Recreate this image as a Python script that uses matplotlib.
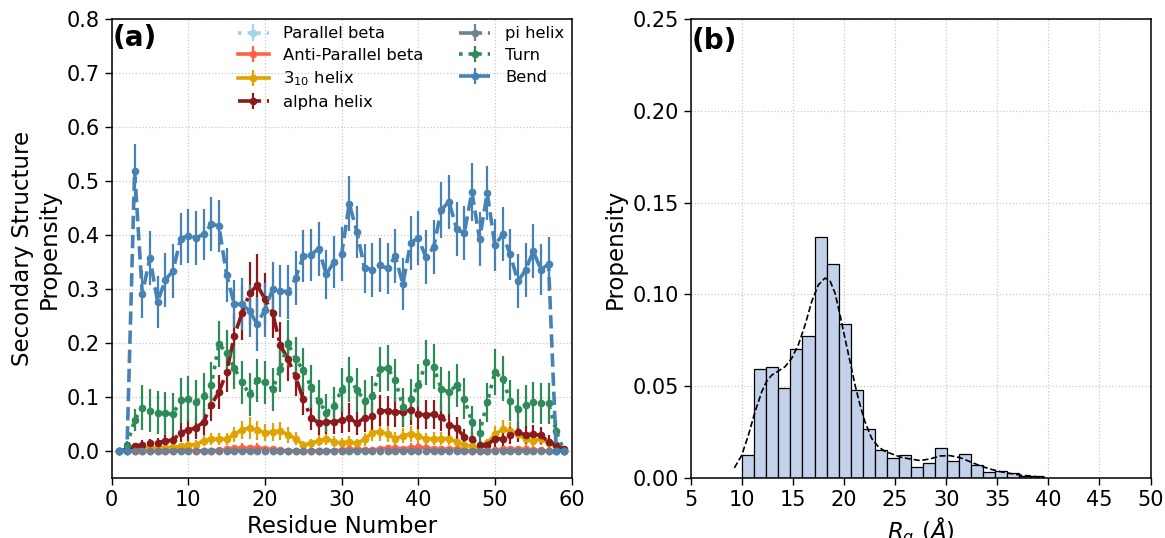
import numpy as np
import matplotlib.pyplot as plt

# per-residue secondary structure propensity (mean and error)
residues = np.arange(1, 60)

parallel_beta = np.zeros(len(residues))
parallel_beta_err = np.zeros(len(residues))

antiparallel_beta = [0, 0, 0, 0, 0, 0, 0, 0, 0.004, 0.002,
                     0, 0, 0, 0.002, 0.003, 0.005, 0.006, 0.005, 0.006, 0.004,
                     0.003, 0.002, 0, 0, 0, 0, 0, 0, 0, 0.002,
                     0.003, 0.003, 0.002, 0.002, 0.004, 0.005, 0.005, 0.004, 0.006, 0.007,
                     0.006, 0.004, 0.003, 0.004, 0.003, 0.002, 0, 0, 0, 0.002,
                     0.003, 0.003, 0.004, 0.003, 0.002, 0.001, 0, 0, 0]
antiparallel_beta_err = [0, 0, 0, 0, 0, 0, 0, 0, 0.006, 0.004,
                         0, 0, 0, 0.004, 0.005, 0.007, 0.008, 0.007, 0.008, 0.006,
                         0.005, 0.004, 0, 0, 0, 0, 0, 0, 0, 0.004,
                         0.005, 0.005, 0.004, 0.004, 0.006, 0.007, 0.007, 0.006, 0.008, 0.009,
                         0.008, 0.006, 0.005, 0.006, 0.005, 0.004, 0, 0, 0, 0.004,
                         0.005, 0.005, 0.006, 0.005, 0.004, 0.003, 0, 0, 0]

helix310 = [0, 0.001, 0.003, 0.005, 0.006, 0.006, 0.006, 0.007, 0.009, 0.011,
            0.012, 0.019, 0.022, 0.022, 0.022, 0.031, 0.039, 0.043, 0.038, 0.034,
            0.035, 0.037, 0.030, 0.023, 0.011, 0.014, 0.019, 0.023, 0.017, 0.015,
            0.017, 0.014, 0.022, 0.034, 0.036, 0.031, 0.023, 0.028, 0.032, 0.028,
            0.022, 0.023, 0.023, 0.023, 0.017, 0.011, 0.009, 0.004, 0.014, 0.031,
            0.040, 0.037, 0.031, 0.022, 0.019, 0.023, 0.015, 0.009, 0]
helix310_err = [0, 0.001, 0.003, 0.004, 0.005, 0.005, 0.005, 0.005, 0.006, 0.007,
                0.008, 0.010, 0.011, 0.011, 0.011, 0.014, 0.017, 0.020, 0.017, 0.016,
                0.016, 0.017, 0.015, 0.012, 0.007, 0.008, 0.010, 0.012, 0.010, 0.009,
                0.010, 0.009, 0.012, 0.016, 0.017, 0.015, 0.012, 0.014, 0.015, 0.014,
                0.012, 0.012, 0.012, 0.012, 0.010, 0.007, 0.006, 0.004, 0.008, 0.015,
                0.018, 0.017, 0.015, 0.012, 0.011, 0.012, 0.009, 0.006, 0]

alpha_helix = [0, 0.003, 0.009, 0.012, 0.014, 0.015, 0.019, 0.020, 0.034, 0.039,
               0.043, 0.054, 0.086, 0.109, 0.146, 0.213, 0.255, 0.292, 0.307, 0.281,
               0.256, 0.196, 0.170, 0.138, 0.096, 0.062, 0.052, 0.054, 0.054, 0.057,
               0.062, 0.051, 0.062, 0.065, 0.075, 0.074, 0.072, 0.072, 0.076, 0.068,
               0.067, 0.068, 0.063, 0.049, 0.043, 0.026, 0.022, 0.011, 0.012, 0.022,
               0.023, 0.029, 0.035, 0.030, 0.031, 0.029, 0.017, 0.012, 0.003]
alpha_helix_err = [0, 0.003, 0.006, 0.008, 0.009, 0.010, 0.011, 0.012, 0.018, 0.020,
                   0.020, 0.024, 0.030, 0.032, 0.036, 0.042, 0.050, 0.058, 0.058, 0.048,
                   0.046, 0.042, 0.040, 0.036, 0.030, 0.024, 0.022, 0.022, 0.022, 0.024,
                   0.026, 0.022, 0.026, 0.026, 0.028, 0.028, 0.028, 0.028, 0.028, 0.027,
                   0.027, 0.027, 0.026, 0.022, 0.020, 0.015, 0.014, 0.008, 0.009, 0.014,
                   0.014, 0.016, 0.018, 0.017, 0.017, 0.016, 0.012, 0.009, 0.003]

pi_helix = np.zeros(len(residues))
pi_helix_err = np.zeros(len(residues))

turn = [0, 0.011, 0.057, 0.080, 0.075, 0.071, 0.070, 0.068, 0.094, 0.097,
        0.091, 0.102, 0.122, 0.198, 0.182, 0.154, 0.127, 0.105, 0.131, 0.127,
        0.114, 0.152, 0.200, 0.170, 0.150, 0.119, 0.093, 0.071, 0.083, 0.113,
        0.133, 0.113, 0.093, 0.101, 0.151, 0.154, 0.131, 0.082, 0.096, 0.122,
        0.164, 0.156, 0.115, 0.109, 0.122, 0.097, 0.054, 0.034, 0.090, 0.146,
        0.134, 0.093, 0.078, 0.085, 0.090, 0.088, 0.088, 0.037, 0]
turn_err = [0, 0.008, 0.020, 0.042, 0.040, 0.040, 0.040, 0.040, 0.042, 0.042,
            0.040, 0.042, 0.042, 0.042, 0.042, 0.040, 0.040, 0.040, 0.040, 0.040,
            0.040, 0.042, 0.042, 0.042, 0.040, 0.040, 0.038, 0.035, 0.036, 0.040,
            0.042, 0.040, 0.038, 0.038, 0.042, 0.042, 0.040, 0.035, 0.038, 0.040,
            0.042, 0.042, 0.040, 0.040, 0.040, 0.038, 0.030, 0.025, 0.036, 0.042,
            0.042, 0.038, 0.036, 0.038, 0.038, 0.038, 0.038, 0.020, 0]

bend = [0, 0, 0.519, 0.291, 0.358, 0.276, 0.317, 0.333, 0.393, 0.399,
        0.395, 0.401, 0.420, 0.417, 0.326, 0.272, 0.272, 0.259, 0.235, 0.262,
        0.300, 0.296, 0.295, 0.320, 0.361, 0.363, 0.375, 0.327, 0.350, 0.364,
        0.458, 0.406, 0.338, 0.336, 0.344, 0.338, 0.361, 0.309, 0.386, 0.394,
        0.359, 0.377, 0.446, 0.462, 0.412, 0.403, 0.480, 0.392, 0.478, 0.381,
        0.401, 0.364, 0.314, 0.335, 0.370, 0.336, 0.346, 0, 0]
bend_err = [0, 0, 0.050, 0.045, 0.050, 0.048, 0.050, 0.050, 0.048, 0.050,
            0.050, 0.048, 0.050, 0.048, 0.050, 0.045, 0.048, 0.048, 0.050, 0.050,
            0.050, 0.048, 0.050, 0.050, 0.048, 0.048, 0.050, 0.045, 0.048, 0.050,
            0.051, 0.048, 0.045, 0.050, 0.050, 0.048, 0.050, 0.048, 0.050, 0.050,
            0.050, 0.050, 0.052, 0.050, 0.050, 0.050, 0.054, 0.050, 0.050, 0.048,
            0.050, 0.048, 0.050, 0.050, 0.050, 0.048, 0.050, 0, 0]

# radius of gyration distribution (density per bin) and its KDE
rg_edges = np.linspace(10.06, 39.49, 26)
rg_density = [0.0127, 0.0592, 0.0603, 0.0488, 0.0703, 0.0772, 0.1313, 0.1165, 0.0837, 0.0477,
              0.0269, 0.0155, 0.0111, 0.0124, 0.0060, 0.0080, 0.0166, 0.0093, 0.0133, 0.0071,
              0.0031, 0.0038, 0.0025, 0.0013, 0.0011]

kde_x = [9.28, 10.0, 10.65, 11.3, 11.96, 12.45, 12.93, 13.59, 14.24, 14.89,
         15.54, 16.2, 16.85, 17.5, 18.15, 18.64, 19.13, 19.62, 20.1, 20.6,
         21.09, 21.58, 22.06, 22.72, 23.37, 24.02, 25.0, 25.65, 26.47, 27.45,
         28.42, 29.4, 30.38, 31.36, 32.34, 33.31, 34.29, 35.27, 36.25, 37.23,
         38.2, 39.18, 39.67]
kde_y = [0.0055, 0.0124, 0.0233, 0.036, 0.047, 0.0528, 0.056, 0.0583, 0.0606, 0.0652,
         0.0725, 0.0834, 0.0961, 0.1052, 0.1089, 0.1074, 0.1007, 0.0888, 0.0761, 0.0634,
         0.0506, 0.0397, 0.0306, 0.0215, 0.017, 0.0145, 0.0125, 0.0112, 0.0104, 0.0095,
         0.0104, 0.012, 0.0122, 0.0111, 0.0089, 0.0067, 0.0049, 0.0035, 0.0025, 0.0016,
         0.0011, 0.0005, 0.0004]

plt.rcParams['font.family'] = 'DejaVu Sans'

fig = plt.figure(figsize=(11.65, 5.38), dpi=100)
ax1 = fig.add_axes([0.0958, 0.1115, 0.3948, 0.8532])
ax2 = fig.add_axes([0.5928, 0.1115, 0.3948, 0.8532])

series = [
    (parallel_beta, parallel_beta_err, 'Parallel beta', '#9fd3ee', ':'),
    (antiparallel_beta, antiparallel_beta_err, 'Anti-Parallel beta', 'tomato', '-'),
    (helix310, helix310_err, '$3_{10}$ helix', '#e0a300', '-'),
    (alpha_helix, alpha_helix_err, 'alpha helix', '#8b1a1a', '-.'),
    (pi_helix, pi_helix_err, 'pi helix', 'slategray', '-.'),
    (turn, turn_err, 'Turn', 'seagreen', ':'),
    (bend, bend_err, 'Bend', 'steelblue', '--'),
]

for vals, err, lab, col, ls in series:
    ax1.errorbar(residues, vals, yerr=err, color=col, ls=ls, lw=2.6,
                 marker='o', ms=4.5, elinewidth=1.6, label=lab)

ax1.set_xlim(0, 60)
ax1.set_ylim(-0.05, 0.8)
ax1.set_xticks(np.arange(0, 61, 10))
ax1.set_yticks(np.arange(0, 0.81, 0.1))
ax1.set_xlabel('Residue Number', fontsize=16.5)
ax1.set_ylabel('Secondary Structure\nPropensity', fontsize=16.5)
ax1.legend(loc='upper center', bbox_to_anchor=(0.629, 1.016), ncol=2, frameon=False,
           fontsize=11.8, handlelength=1.9, handletextpad=0.9, labelspacing=0.4,
           columnspacing=2.15)
ax1.text(0.003, 0.988, '(a)', transform=ax1.transAxes, fontsize=20,
         fontweight='bold', va='top', ha='left')

ax2.bar(rg_edges[:-1], rg_density, width=np.diff(rg_edges), align='edge',
        color='#c3d1ea', edgecolor='black', linewidth=0.9)
ax2.plot(kde_x, kde_y, color='black', ls='--', lw=1.2)
ax2.set_xlim(5, 50)
ax2.set_ylim(0, 0.25)
ax2.set_xticks(np.arange(5, 51, 5))
ax2.set_yticks(np.arange(0, 0.251, 0.05))
ax2.set_yticklabels(['0.00', '0.05', '0.10', '0.15', '0.20', '0.25'])
ax2.set_xlabel('$R_g\\ (\\AA)$', fontsize=16.5)
ax2.set_ylabel('Propensity', fontsize=16.5)
ax2.text(0.003, 0.982, '(b)', transform=ax2.transAxes, fontsize=20,
         fontweight='bold', va='top', ha='left')

for ax in (ax1, ax2):
    ax.grid(True, ls=':', color='#c8c8c8', lw=0.9)
    ax.set_axisbelow(True)
    ax.tick_params(labelsize=15, length=5, width=1)
    for sp in ax.spines.values():
        sp.set_linewidth(1.1)

fig.savefig('out.png', dpi=100)
